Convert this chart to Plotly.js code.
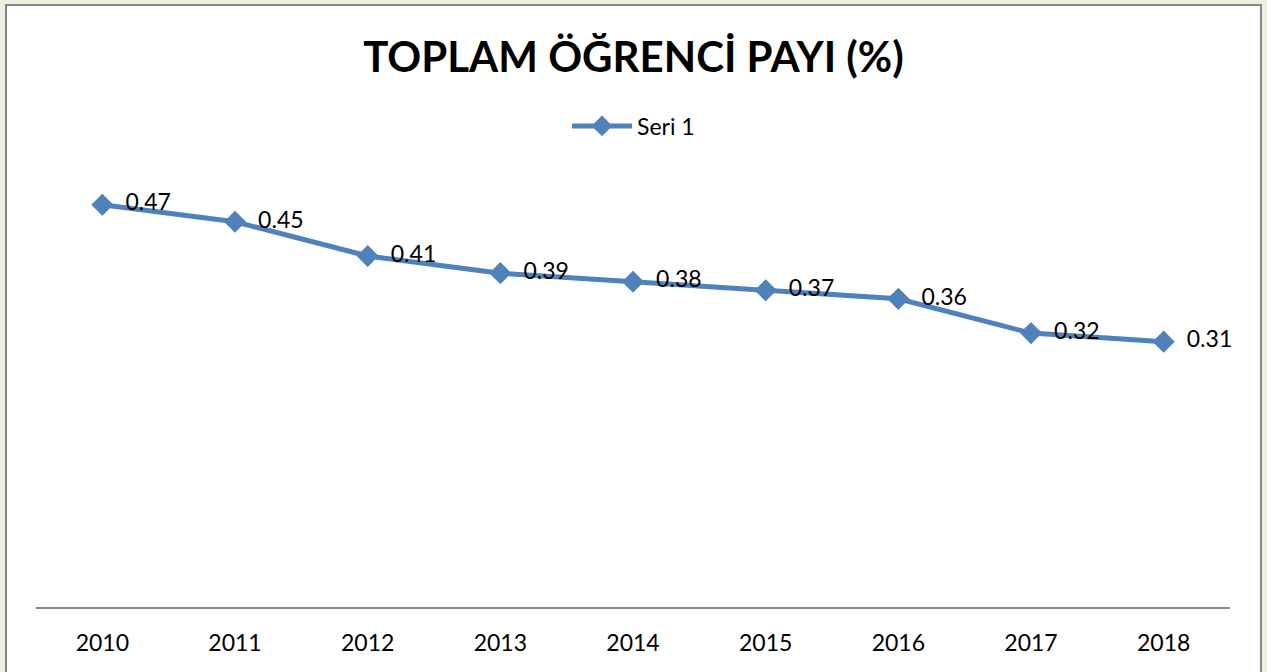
<!DOCTYPE html>
<html>
<head>
<meta charset="utf-8">
<script src="https://cdn.plot.ly/plotly-3.0.1.min.js"></script>
<style>
html,body{margin:0;padding:0;width:1267px;height:672px;overflow:hidden;background:#EBF1DE;}
#frame{position:absolute;left:5px;top:4px;width:1253px;height:680px;background:#fff;border:2px solid #868686;}
#chart{position:absolute;left:0;top:0;width:1267px;height:672px;}
</style>
</head>
<body>
<div id="frame"></div>
<div id="chart"></div>
<script>
const years = ["2010","2011","2012","2013","2014","2015","2016","2017","2018"];
const values = [0.47,0.45,0.41,0.39,0.38,0.37,0.36,0.32,0.31];
const labels = ["0.47","0.45","0.41","0.39","0.38","0.37","0.36","0.32","0.31"];
const seriesName = "Seri 1";
const titleText = "TOPLAM ÖĞRENCİ PAYI (%)";

const FONT = "Lato, 'Open Sans', sans-serif";
const trace = {
  x: years, y: values, type: "scatter", mode: "lines+markers+text",
  name: seriesName,
  text: labels, textposition: "middle right",
  texttemplate: "\u2002%{text}",
  textfont: {family: FONT, size: 23, color: "#000"},
  line: {color: "#4F81BD", width: 5},
  marker: {symbol: "diamond", size: 17, color: "#4F81BD"},
  cliponaxis: false
};
const layout = {
  width: 1267, height: 672,
  margin: {l: 36, r: 37, t: 179, b: 65},
  paper_bgcolor: "rgba(0,0,0,0)", plot_bgcolor: "rgba(0,0,0,0)",
  title: {text: "<b>" + titleText + "</b>", x: 0.5, xref: "container", y: 1 - 57/672, yref: "container", yanchor: "middle",
    font: {family: FONT, size: 42, color: "#000"}},
  showlegend: true,
  legend: {orientation: "h", x: 0.5, xanchor: "center", xref: "container", y: 1 - 126/672, yref: "container", yanchor: "middle",
    font: {family: FONT, size: 23, color: "#000"}, itemwidth: 60, bgcolor: "rgba(0,0,0,0)"},
  xaxis: {type: "category", range: [-0.5, 8.5], showgrid: false, zeroline: false, showline: true, linecolor: "#868686", linewidth: 2,
    ticks: "", tickfont: {family: FONT, size: 23, color: "#000"}, ticklabelstandoff: 14},
  yaxis: {range: [0, 0.5], visible: false, showgrid: false, zeroline: false, fixedrange: true}
};
Plotly.newPlot("chart", [trace], layout, {displayModeBar: false, staticPlot: true});
</script>
</body>
</html>
